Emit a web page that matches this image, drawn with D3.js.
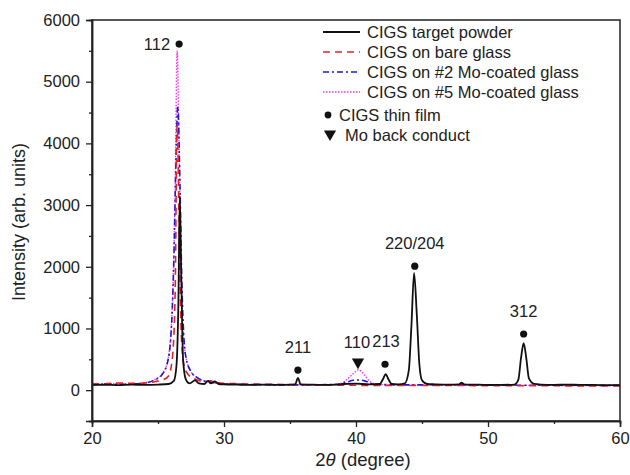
<!DOCTYPE html>
<html><head><meta charset="utf-8">
<script src="https://cdn.jsdelivr.net/npm/d3@7"></script>
<style>body{margin:0;background:#fff}svg{display:block}text{font-family:"Liberation Sans",Arial,sans-serif;fill:#222}</style>
</head><body><svg id="c" width="630" height="475"></svg>
<script>
// ---- data ----
const seriesNames = ["CIGS target powder","CIGS on bare glass","CIGS on #2 Mo-coated glass","CIGS on #5 Mo-coated glass"];
const powder = [[20,85],[21,88],[22,82],[23,90],[24,85],[25,90],[25.8,100],[26.2,150],[26.4,400],[26.55,1500],[26.65,3150],[26.75,2000],[26.9,500],[27.1,180],[27.4,110],[27.8,160],[28.1,110],[28.5,100],[28.8,150],[29.0,110],[29.3,140],[29.6,100],[30,95],[31,90],[32,85],[33,90],[34,85],[35,88],[35.4,95],[35.6,200],[35.8,95],[36.5,90],[37.5,85],[38.5,90],[39,100],[40,105],[41,95],[41.8,100],[42.05,180],[42.25,260],[42.45,180],[42.7,100],[43.2,95],[43.7,110],[44.0,320],[44.2,1050],[44.4,1900],[44.6,1250],[44.8,420],[45.0,160],[45.4,100],[46,95],[47,90],[47.8,95],[48.0,120],[48.2,95],[49,90],[50,85],[51,85],[52,90],[52.3,170],[52.5,520],[52.7,760],[52.9,520],[53.1,190],[53.5,100],[54,90],[55,85],[56,90],[57,85],[58,85],[59,80],[60,80]];
const bareGlass = [[20,100],[21,105],[22,115],[23,110],[24,115],[24.8,140],[25.4,170],[25.8,230],[26.1,550],[26.3,1600],[26.45,4300],[26.6,2700],[26.75,1000],[26.95,420],[27.3,250],[27.8,180],[28.5,140],[29,150],[29.5,120],[30,110],[31,105],[32,100],[33,95],[34,95],[35,90],[36,90],[37,85],[38,85],[39,80],[40,80],[41,75],[42,75],[43,75],[44,75],[46,75],[48,75],[50,72],[52,72],[54,72],[56,70],[58,70],[60,70]];
const mo2 = [[20,90],[21,95],[22,95],[23,100],[24,115],[24.8,170],[25.3,250],[25.7,430],[26.0,950],[26.2,2100],[26.35,3600],[26.5,4600],[26.65,3500],[26.8,1800],[26.95,900],[27.1,550],[27.5,300],[28,200],[28.5,150],[29,130],[29.5,110],[30,100],[31,95],[32,90],[33,88],[34,85],[35,85],[36,85],[37,88],[38,90],[38.8,100],[39.3,130],[39.8,160],[40.3,165],[40.8,140],[41.3,100],[42,90],[43,88],[44,85],[45,85],[46,85],[48,85],[50,82],[52,80],[54,80],[56,80],[58,78],[60,78]];
const mo5 = [[20,95],[21,100],[22,105],[23,100],[24,120],[24.8,180],[25.3,260],[25.7,450],[26.0,1000],[26.15,1800],[26.3,3300],[26.45,5500],[26.6,3900],[26.75,2000],[26.9,1000],[27.1,550],[27.5,300],[28,200],[28.5,150],[29,130],[29.5,110],[30,100],[31,95],[32,90],[33,88],[34,85],[35,85],[36,85],[37,90],[38,90],[38.8,100],[39.3,170],[39.8,270],[40.2,330],[40.6,260],[41,150],[41.5,100],[42,90],[43,85],[44,85],[45,80],[46,85],[48,80],[50,80],[52,78],[54,78],[56,75],[58,75],[60,75]];
const cigsPeaks = [[26.6,5610,"112"],[35.6,325,"211"],[42.2,420,"213"],[44.45,2010,"220/204"],[52.7,910,"312"]];
const moPeaks = [[40.15,455,"110"]];
const xTicks = [20,30,40,50,60];
const yTicks = [0,1000,2000,3000,4000,5000,6000];

// ---- layout ----
const svg = d3.select("#c");
const L=92,R=620,T=20,B=421;
const FS=16.5;
const x = d3.scaleLinear().domain([20,60]).range([L,R]);
const y = d3.scaleLinear().domain([-500,6000]).range([B,T]);

// curves
const line = d3.line().x(d=>x(d[0])).y(d=>y(d[1])).curve(d3.curveMonotoneX);
const styles = [
  {data:powder, color:"#111", dash:null, w:1.8},
  {data:bareGlass, color:"#e8202a", dash:"7,5", w:1.6},
  {data:mo2, color:"#1a1ad0", dash:"6,3,2,3", w:1.6},
  {data:mo5, color:"#ff33ee", dash:"1.5,1.5", w:1.4}
];
const order=[3,2,1,0];
order.forEach(i=>{
  const s=styles[i];
  svg.append("path").attr("d",line(s.data)).attr("fill","none").attr("stroke",s.color)
    .attr("stroke-width",s.w).attr("stroke-dasharray",s.dash).attr("stroke-linejoin","round");
});

// frame
svg.append("rect").attr("x",L).attr("y",T).attr("width",R-L).attr("height",B-T)
  .attr("fill","none").attr("stroke","#222").attr("stroke-width",1.5);

// axes
const xa = svg.append("g").attr("transform",`translate(0,${B})`)
  .call(d3.axisBottom(x).tickValues(xTicks).tickSize(6).tickPadding(5).tickFormat(d3.format("d")));
const xm = svg.append("g").attr("transform",`translate(0,${B})`)
  .call(d3.axisBottom(x).tickValues([25,35,45,55]).tickSize(3).tickFormat(""));
const ya = svg.append("g").attr("transform",`translate(${L},0)`)
  .call(d3.axisLeft(y).tickValues(yTicks).tickSize(6).tickPadding(6).tickFormat(d3.format("d")));
const ym = svg.append("g").attr("transform",`translate(${L},0)`)
  .call(d3.axisLeft(y).tickValues([-500,500,1500,2500,3500,4500,5500]).tickSize(3).tickFormat(""));
[xa,xm,ya,ym].forEach(g=>{
  g.select(".domain").attr("stroke","#222").attr("stroke-width",1.5);
  g.selectAll(".tick line").attr("stroke","#222").attr("stroke-width",1.3);
  g.selectAll("text").attr("font-size",FS).attr("fill","#222").attr("font-family","Liberation Sans, Arial, sans-serif");
});

// axis titles
svg.append("text").attr("transform","translate(25,222) rotate(-90)").attr("text-anchor","middle")
  .attr("font-size",18).text("Intensity (arb. units)");
const xt = svg.append("text").attr("x",363).attr("y",466).attr("text-anchor","middle").attr("font-size",18.5);
xt.append("tspan").text("2");
xt.append("tspan").attr("font-style","italic").text("θ");
xt.append("tspan").text(" (degree)");

// peak markers
svg.selectAll("circle.pk").data(cigsPeaks).join("circle").attr("class","pk")
  .attr("cx",d=>x(d[0])).attr("cy",d=>y(d[1])).attr("r",3.6).attr("fill","#111");
const tri = d3.symbol().type(d3.symbolTriangle).size(65);
svg.selectAll("path.mo").data(moPeaks).join("path").attr("class","mo")
  .attr("d",tri).attr("transform",d=>`translate(${x(d[0])},${y(d[1])}) rotate(180)`).attr("fill","#111");

// peak labels
const labelPos = {"112":[-9,6,"end"],"211":[0,-17,"middle"],"213":[1,-17,"middle"],"220/204":[0,-17,"middle"],"312":[0,-17,"middle"]};
svg.selectAll("text.pl").data(cigsPeaks).join("text").attr("class","pl")
  .attr("x",d=>x(d[0])+labelPos[d[2]][0]).attr("y",d=>y(d[1])+labelPos[d[2]][1])
  .attr("text-anchor",d=>labelPos[d[2]][2]).attr("font-size",FS).text(d=>d[2]);
svg.selectAll("text.ml").data(moPeaks).join("text").attr("class","ml")
  .attr("x",d=>x(d[0])-1).attr("y",d=>y(d[1])-14).attr("text-anchor","middle").attr("font-size",FS).text(d=>d[2]);

// legend
const lg = svg.append("g");
seriesNames.forEach((n,i)=>{
  const yy = 32+i*20;
  const s=styles[i];
  lg.append("line").attr("x1",323).attr("x2",360).attr("y1",yy).attr("y2",yy)
    .attr("stroke",s.color).attr("stroke-width",s.w).attr("stroke-dasharray",s.dash);
  lg.append("text").attr("x",367).attr("y",yy+6).attr("font-size",FS).text(n);
});
lg.append("circle").attr("cx",328).attr("cy",115).attr("r",3.4).attr("fill","#111");
lg.append("text").attr("x",339).attr("y",121).attr("font-size",FS).text("CIGS thin film");
lg.append("path").attr("d",tri).attr("transform","translate(330,134) rotate(180)").attr("fill","#111");
lg.append("text").attr("x",345).attr("y",141).attr("font-size",FS).text("Mo back conduct");
</script></body></html>
